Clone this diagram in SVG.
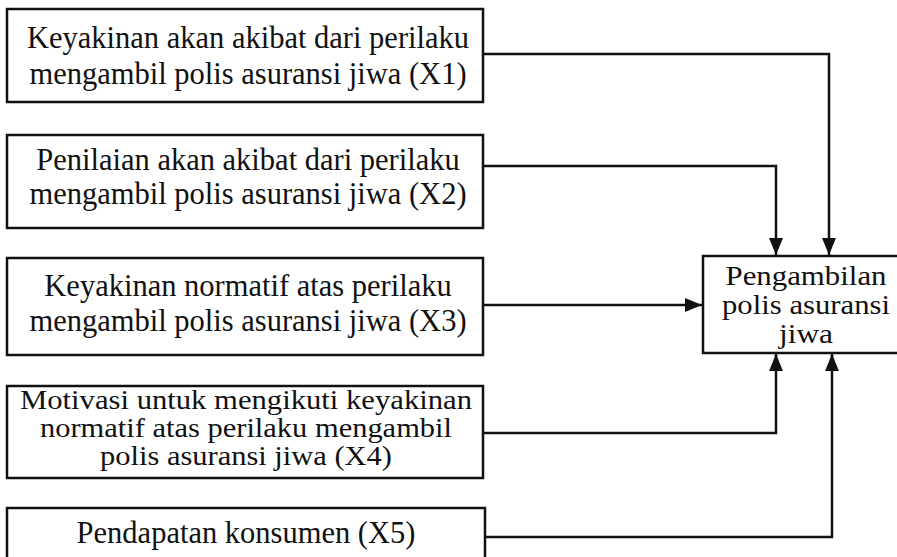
<svg xmlns="http://www.w3.org/2000/svg" width="897" height="557" viewBox="0 0 897 557">
<style>
.box{fill:#fff;stroke:#111;stroke-width:2.5}
.t{font-family:"Liberation Serif","Times New Roman",serif;font-size:30.5px;fill:#111;text-anchor:middle}
.s{font-size:27px}
.c{fill:none;stroke:#111;stroke-width:2.5}
</style>
<defs>
<marker id="ah" markerUnits="userSpaceOnUse" markerWidth="18" markerHeight="14" refX="17" refY="7" orient="auto">
<path d="M0,0 L17,7 L0,14 Z" fill="#111"/>
</marker>
</defs>
<rect width="897" height="557" fill="#fff"/>
<g id="connectors">
<path class="c" d="M483,54 H829 V255" marker-end="url(#ah)"/>
<path class="c" d="M483,166 H776 V255" marker-end="url(#ah)"/>
<path class="c" d="M483,305 H702" marker-end="url(#ah)"/>
<path class="c" d="M483,433 H776 V354" marker-end="url(#ah)"/>
<path class="c" d="M485,537 H832 V354" marker-end="url(#ah)"/>
</g>
<g id="x1">
<rect class="box" x="7" y="9" width="476" height="93"/>
<text class="t" x="248" y="48">Keyakinan akan akibat dari perilaku</text>
<text class="t" x="248" y="84">mengambil polis asuransi jiwa (X1)</text>
</g>
<g id="x2">
<rect class="box" x="7" y="135" width="476" height="93"/>
<text class="t" x="248" y="170">Penilaian akan akibat dari perilaku</text>
<text class="t" x="248" y="204">mengambil polis asuransi jiwa (X2)</text>
</g>
<g id="x3">
<rect class="box" x="7" y="258" width="476" height="97"/>
<text class="t" x="248" y="296">Keyakinan normatif atas perilaku</text>
<text class="t" x="248" y="331">mengambil polis asuransi jiwa (X3)</text>
</g>
<g id="x4">
<rect class="box" x="7" y="386" width="476" height="92"/>
<text class="t s" x="246" y="409" textLength="452" lengthAdjust="spacingAndGlyphs">Motivasi untuk mengikuti keyakinan</text>
<text class="t s" x="246" y="437" textLength="412" lengthAdjust="spacingAndGlyphs">normatif atas perilaku mengambil</text>
<text class="t s" x="246" y="465" textLength="292" lengthAdjust="spacingAndGlyphs">polis asuransi jiwa (X4)</text>
</g>
<g id="x5">
<rect class="box" x="7" y="508" width="478" height="60"/>
<text class="t" x="246" y="543">Pendapatan konsumen (X5)</text>
</g>
<g id="y">
<rect class="box" x="703" y="256" width="200" height="97"/>
<text class="t s" x="806" y="285" textLength="161" lengthAdjust="spacingAndGlyphs">Pengambilan</text>
<text class="t s" x="806" y="314" textLength="168" lengthAdjust="spacingAndGlyphs">polis asuransi</text>
<text class="t s" x="806" y="343" textLength="54" lengthAdjust="spacingAndGlyphs">jiwa</text>
</g>
</svg>
